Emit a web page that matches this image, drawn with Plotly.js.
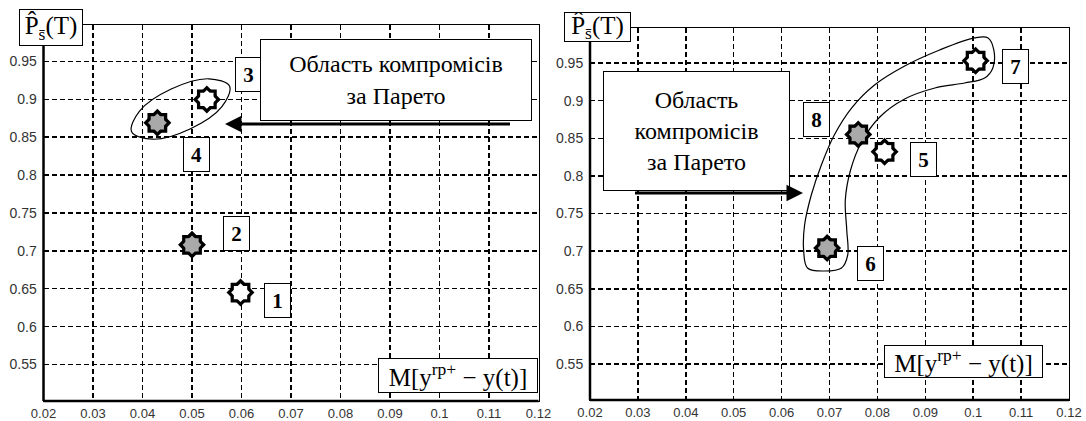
<!DOCTYPE html>
<html><head><meta charset="utf-8">
<script src="https://cdn.plot.ly/plotly-3.0.1.min.js"></script>
<style>html,body{margin:0;padding:0;background:#fff}#chart{width:1086px;height:421px}</style>
</head><body><div id="chart"></div>
<script>
// ---- data ----
const xTickVals = [0.02,0.03,0.04,0.05,0.06,0.07,0.08,0.09,0.10,0.11,0.12];
const xTickText = ['0.02','0.03','0.04','0.05','0.06','0.07','0.08','0.09','0.1','0.11','0.12'];
const yTickVals = [0.55,0.60,0.65,0.70,0.75,0.80,0.85,0.90,0.95];
const yTickText = ['0.55','0.6','0.65','0.7','0.75','0.8','0.85','0.9','0.95'];

const leftLabels = ['1','2','3','4'];
const leftX = [0.0598, 0.0500, 0.0530, 0.0430];
const leftY = [0.645, 0.708, 0.900, 0.869];
const leftGray = [false, true, false, true];

const rightLabels = ['5','6','7','8'];
const rightX = [0.0815, 0.0695, 0.1005, 0.0760];
const rightY = [0.832, 0.704, 0.953, 0.855];
const rightGray = [false, true, false, true];

// Pareto region outlines
const ellipseX = [0.0496,0.0421,0.0378,0.0394,0.0458,0.0534,0.0576,0.0560,0.0496];
const ellipseY = [0.8610,0.8474,0.8572,0.8845,0.9136,0.9272,0.9174,0.8901,0.8610];
const bananaX = [0.0662,0.0683,0.0710,0.0746,0.0794,0.0857,0.0930,0.1003,0.1031,0.1043,0.1041,0.1024,
                 0.0982,0.0920,0.0857,0.0805,0.0767,0.0744,0.0733,0.0736,0.0738,0.0725,0.0690,
                 0.0654,0.0646,0.0648,0.0662];
const bananaY = [0.7746,0.8145,0.8543,0.8902,0.9208,0.9460,0.9673,0.9833,0.9833,0.9673,0.9434,0.9301,
                 0.9234,0.9168,0.9022,0.8783,0.8450,0.8078,0.7679,0.7281,0.6948,0.6776,0.6736,
                 0.6776,0.7015,0.7347,0.7746];

const titleY = 'P\u0302<sub>s\u0304</sub>(T)';
const titleX = 'M[y<sup>rp+</sup> \u2212 y(t)]';
const regionLeft = 'Область компромісів<br>за Парето';
const regionRight = 'Область<br>компромісів<br>за Парето';

// ---- helpers ----
const W = 1086, H = 421;
const px = x => x / W;
const py = y => 1 - y / H;
const GRAY = '#a9a9a9';

function stars(xs, ys, grayFlags, xa, ya) {
  const fills = grayFlags.map(g => g ? GRAY : '#ffffff');
  const R = 9.4;
  const sq = R * Math.SQRT2, di = 2 * R / 1.3;
  const base = {x: xs, y: ys, xaxis: xa, yaxis: ya, mode: 'markers', type: 'scatter', hoverinfo: 'skip', showlegend: false};
  return [
    Object.assign({}, base, {marker: {symbol: 'square', size: sq, color: fills, line: {color: '#000', width: 6.5}}}),
    Object.assign({}, base, {marker: {symbol: 'diamond', size: di, color: fills, line: {color: '#000', width: 6.5}}}),
    Object.assign({}, base, {marker: {symbol: 'square', size: sq, color: fills, line: {width: 0}}}),
    Object.assign({}, base, {marker: {symbol: 'diamond', size: di, color: fills, line: {width: 0}}})
  ];
}

const outlineStyle = {color: '#000', width: 1.2, shape: 'spline', smoothing: 1};
const traces = [
  {x: ellipseX, y: ellipseY, xaxis: 'x', yaxis: 'y', mode: 'lines', line: outlineStyle, hoverinfo: 'skip', showlegend: false},
  {x: bananaX, y: bananaY, xaxis: 'x2', yaxis: 'y2', mode: 'lines', line: outlineStyle, hoverinfo: 'skip', showlegend: false},
  ...stars(leftX, leftY, leftGray, 'x', 'y'),
  ...stars(rightX, rightY, rightGray, 'x2', 'y2')
];

const tickFont = {family: 'Liberation Sans, Arial, sans-serif', size: 13, color: '#333'};
function xax(domain) {
  return {domain: domain, range: [0.02, 0.12], tickvals: xTickVals, ticktext: xTickText, tickfont: tickFont,
    showgrid: true, gridcolor: '#000', gridwidth: 1.5, griddash: '5px,3px', zeroline: false,
    showline: true, mirror: true, linecolor: '#000', linewidth: 1, ticks: '', ticklabelstandoff: 0, fixedrange: true};
}
function yax(domain, range, anchor) {
  return {domain: domain, range: range, anchor: anchor, tickvals: yTickVals, ticktext: yTickText,
    tickfont: {family: tickFont.family, size: 14, color: tickFont.color},
    showgrid: true, gridcolor: '#000', gridwidth: 1.5, griddash: '5px,3px', zeroline: false,
    showline: true, mirror: true, linecolor: '#000', linewidth: 1, ticks: '', ticklabelstandoff: 3, fixedrange: true};
}

const numFont = {family: 'Liberation Serif, Times New Roman, serif', size: 21, color: '#000', weight: 'bold'};
const serifFont = {family: 'Liberation Serif, Times New Roman, serif', size: 24, color: '#000'};
const mathFont = {family: 'Liberation Serif, Times New Roman, serif', size: 25, color: '#000'};

const leftShift = [[37,-8],[44,11],[42,25],[39,-32]];
const rightShift = [[39,-8],[43,-15],[40,-6],[-42,15]];

const annotations = [];
function numBoxes(xs, ys, labels, shifts, xr, yr) {
  labels.forEach((t, i) => annotations.push({
    x: xs[i], y: ys[i], xref: xr, yref: yr, text: t, showarrow: false,
    xshift: shifts[i][0], yshift: shifts[i][1], font: numFont, bgcolor: '#fff',
    bordercolor: '#000', borderwidth: 1, borderpad: 0, width: 25, height: 33
  }));
}
numBoxes(leftX, leftY, leftLabels, leftShift, 'x', 'y');
numBoxes(rightX, rightY, rightLabels, rightShift, 'x2', 'y2');

function box(cx, cy, w, h, text, font) {
  annotations.push({x: px(cx), y: py(cy), xref: 'paper', yref: 'paper', xanchor: 'center', yanchor: 'middle',
    text: text, showarrow: false, font: font, bgcolor: '#fff', bordercolor: '#000', borderwidth: 1,
    borderpad: 0, width: w - 2, height: h - 2});
}
box(51, 27.5, 64, 37, titleY, mathFont);
box(597.5, 27, 67, 30, titleY, mathFont);
box(458, 375.5, 160, 35, titleX, mathFont);
box(963.5, 361.5, 159, 33, titleX, mathFont);
box(396, 80, 272, 82, regionLeft, serifFont);
box(696.5, 131, 187, 120, regionRight, serifFont);

function arrow(hx, hy, tx, ty) {
  annotations.push({x: px(hx), y: py(hy), xref: 'paper', yref: 'paper', axref: 'pixel', ayref: 'pixel',
    ax: tx - hx, ay: ty - hy, text: ' ', showarrow: true, arrowhead: 2, arrowsize: 1.1, arrowwidth: 3, arrowcolor: '#000'});
}
arrow(225, 124, 513, 124);
arrow(803, 193, 632, 193);

const frameLine = (xr, yr, x0, y0, x1, y1) => ({type: 'line', xref: xr, yref: yr, x0, y0, x1, y1, line: {color: '#000', width: 2.5}});
const shapes = [
  frameLine('x domain', 'y domain', 0, 0, 0, 1),
  frameLine('x domain', 'y domain', 0, 0, 1, 0),
  frameLine('x2 domain', 'y2 domain', 0, 0, 0, 1),
  frameLine('x2 domain', 'y2 domain', 0, 0, 1, 0)
];

const layout = {
  width: W, height: H, margin: {l: 0, r: 0, t: 0, b: 0},
  paper_bgcolor: '#fff', plot_bgcolor: '#fff', showlegend: false,
  xaxis: Object.assign(xax([0.04006, 0.49586]), {anchor: 'y'}),
  yaxis: yax([0.04751, 0.94062], [0.5018, 0.9982], 'x'),
  xaxis2: Object.assign(xax([0.54328, 0.98435]), {anchor: 'y2'}),
  yaxis2: yax([0.04988, 0.93349], [0.50216, 0.99651], 'x2'),
  annotations: annotations, shapes: shapes
};

Plotly.newPlot('chart', traces, layout, {staticPlot: true, displayModeBar: false});
</script></body></html>
